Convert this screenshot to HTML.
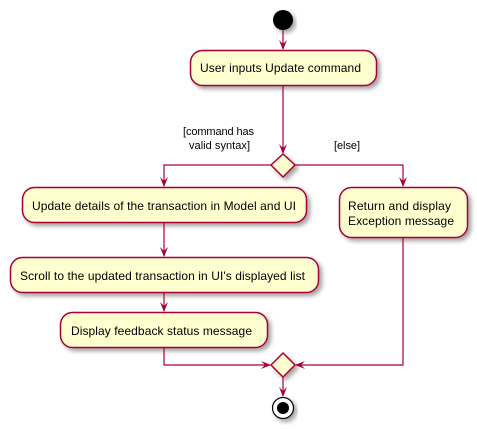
<!DOCTYPE html>
<html><head><meta charset="utf-8"><style>
html,body{margin:0;padding:0;background:#fff;}
svg{display:block;}
text{font-family:"Liberation Sans",Arial,sans-serif;fill:#000;}
</style></head><body>
<svg width="477" height="429" viewBox="0 0 477 429" xmlns="http://www.w3.org/2000/svg">
<defs>
<filter id="sh" x="-20%" y="-20%" width="140%" height="150%">
<feGaussianBlur in="SourceAlpha" stdDeviation="2"/>
<feOffset dx="3" dy="3" result="b"/>
<feColorMatrix in="b" type="matrix" values="0 0 0 0 0  0 0 0 0 0  0 0 0 0 0  0 0 0 0.35 0"/>
<feMerge><feMergeNode/><feMergeNode in="SourceGraphic"/></feMerge>
</filter>
</defs>
<g stroke="#A80036" stroke-width="1.5" fill="#FEFECE">
<circle cx="283" cy="20" r="10" fill="#000" stroke="none" filter="url(#sh)"/>
<rect x="190.5" y="50.5" width="186" height="35" rx="12" filter="url(#sh)"/>
<polygon points="283,154 295,165 283,177 271,165" filter="url(#sh)"/>
<rect x="22.5" y="187.5" width="284" height="35" rx="12" filter="url(#sh)"/>
<rect x="339.5" y="187.5" width="128" height="50" rx="12" filter="url(#sh)"/>
<rect x="10.5" y="257.5" width="308" height="35" rx="12" filter="url(#sh)"/>
<rect x="60.5" y="312.5" width="207" height="35" rx="12" filter="url(#sh)"/>
<polygon points="283,353 295,365 283,377 271,365" filter="url(#sh)"/>
<circle cx="283" cy="408" r="10.5" fill="#fff" stroke="#000" stroke-width="1.2" filter="url(#sh)"/>
</g>
<circle cx="283" cy="408" r="6" fill="#000"/>
<g stroke="#A80036" stroke-width="1.2" fill="none">
<line x1="283" y1="30" x2="283" y2="49"/>
<line x1="283" y1="86" x2="283" y2="153"/>
<polyline points="271,165 164,165 164,186"/>
<polyline points="295,165 403,165 403,186"/>
<line x1="164" y1="223" x2="164" y2="256"/>
<line x1="164" y1="293" x2="164" y2="311"/>
<polyline points="164,348 164,365 270,365"/>
<polyline points="403,238 403,365 296,365"/>
<line x1="283" y1="377" x2="283" y2="396"/>
</g>
<g fill="#A80036">
<polygon points="279,40 283,50 287,40 283,44"/>
<polygon points="279,144 283,154 287,144 283,148"/>
<polygon points="160,177 164,187 168,177 164,181"/>
<polygon points="399,177 403,187 407,177 403,181"/>
<polygon points="160,247 164,257 168,247 164,251"/>
<polygon points="160,302 164,312 168,302 164,306"/>
<polygon points="261,361 271,365 261,369 265,365"/>
<polygon points="305,361 295,365 305,369 301,365"/>
<polygon points="279,387 283,397 287,387 283,391"/>
</g>
<g font-size="12">
<text x="200" y="72" textLength="161">User inputs Update command</text>
<text x="32" y="210" textLength="264">Update details of the transaction in Model and UI</text>
<text x="348" y="210" textLength="103">Return and display</text>
<text x="348" y="225" textLength="106">Exception message</text>
<text x="20" y="280" textLength="285">Scroll to the updated transaction in UI's displayed list</text>
<text x="71" y="335" textLength="181">Display feedback status message</text>
</g>
<g font-size="11">
<text x="183" y="135" textLength="71">[command has</text>
<text x="189" y="149" textLength="61">valid syntax]</text>
<text x="334" y="149" textLength="26">[else]</text>
</g>
</svg>
</body></html>
